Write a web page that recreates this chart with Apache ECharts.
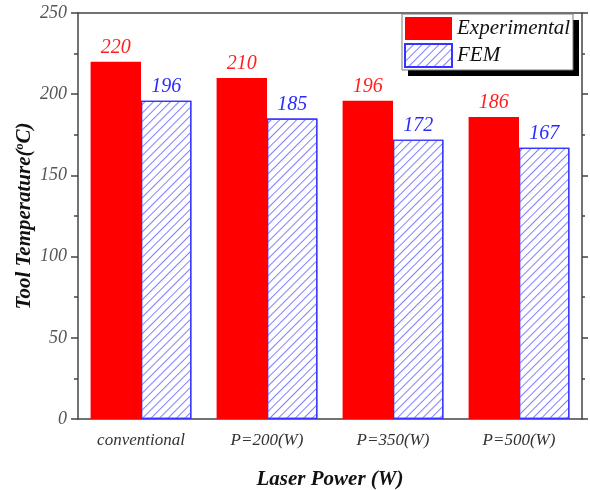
<!DOCTYPE html>
<html>
<head>
<meta charset="utf-8">
<script src="https://cdn.jsdelivr.net/npm/echarts@6/dist/echarts.min.js"></script>
<style>html,body{margin:0;padding:0;background:#fff}#c{width:590px;height:490px}</style>
</head>
<body>
<div id="c"></div>
<script>
const categories = ['conventional', 'P=200(W)', 'P=350(W)', 'P=500(W)'];
const experimental = [220, 210, 196, 186];
const fem = [196, 185, 172, 167];
const yTicks = [0, 50, 100, 150, 200, 250];

const serif = '"Liberation Serif", "DejaVu Serif", serif';
const axisColor = '#444';
const hatchDecal = {
  symbol: 'rect', symbolSize: 1, color: '#8080ff',
  dashArrayX: [1, 0], dashArrayY: [1, 4.5], rotation: -Math.PI / 4
};
const chart = echarts.init(document.getElementById('c'));
chart.setOption({
  animation: false,
  textStyle: { fontFamily: serif },
  grid: { left: 78, right: 8, top: 13, bottom: 71, containLabel: false, outerBoundsMode: 'none' },
  graphic: [
    { type: 'rect', z: 5, shape: { x: 408, y: 20, width: 171, height: 56 }, style: { fill: '#000' } },
    { type: 'rect', z: 5, shape: { x: 402, y: 14, width: 171, height: 56 }, style: { fill: '#fff', stroke: '#777', lineWidth: 1 } }
  ],
  legend: {
    orient: 'vertical', left: 404, top: 17, z: 10,
    itemWidth: 47, itemHeight: 23, itemGap: 3, padding: 0,
    icon: 'rect',
    textStyle: { fontFamily: serif, fontStyle: 'italic', fontSize: 21, color: '#111', padding: [0, 0, 0, 0] },
    data: ['Experimental', 'FEM']
  },
  xAxis: [
    {
      type: 'category', data: categories, position: 'bottom',
      axisLine: { lineStyle: { color: axisColor, width: 1.5 } },
      axisTick: { alignWithLabel: true, length: 7, lineStyle: { color: axisColor, width: 1.5 } },
      axisLabel: { fontFamily: serif, fontStyle: 'italic', fontSize: 17, color: '#333', margin: 13 },
      name: 'Laser Power (W)', nameLocation: 'middle', nameGap: 50, nameMoveOverlap: false,
      nameTextStyle: { fontFamily: serif, fontStyle: 'italic', fontWeight: 'bold', fontSize: 21, color: '#111' }
    },
    {
      type: 'category', data: categories, position: 'bottom', gridIndex: 0,
      axisLine: { show: false },
      axisTick: { alignWithLabel: false, length: 4, lineStyle: { color: axisColor, width: 1.5 } },
      axisLabel: { show: false }
    },
    {
      type: 'category', data: categories, position: 'top',
      axisLine: { lineStyle: { color: axisColor, width: 1.5 } },
      axisTick: { alignWithLabel: true, length: 6, lineStyle: { color: axisColor, width: 1.5 } },
      axisLabel: { show: false }
    },
    {
      type: 'category', data: categories, position: 'top',
      axisLine: { show: false },
      axisTick: { alignWithLabel: false, length: 3, lineStyle: { color: axisColor, width: 1.5 } },
      axisLabel: { show: false }
    }
  ],
  yAxis: [
    {
      type: 'value', min: 0, max: 250, interval: 50, position: 'left',
      axisLine: { show: true, lineStyle: { color: axisColor, width: 1.5 } },
      axisTick: { show: true, length: 7, lineStyle: { color: axisColor, width: 1.5 } },
      minorTick: { show: true, splitNumber: 2, length: 4, lineStyle: { color: axisColor, width: 1.5 } },
      splitLine: { show: false },
      axisLabel: { fontFamily: serif, fontStyle: 'italic', fontSize: 18, color: '#555', margin: 11,
        formatter: v => yTicks.includes(v) ? String(v) : '' },
      name: '{n|Tool Temperature(}{s|o}{n|C)}', nameLocation: 'middle', nameGap: 43, nameRotate: 90,
      nameMoveOverlap: false,
      nameTextStyle: { rich: {
        n: { fontFamily: serif, fontStyle: 'italic', fontWeight: 'bold', fontSize: 21, color: '#111' },
        s: { fontFamily: serif, fontStyle: 'italic', fontWeight: 'bold', fontSize: 12, color: '#111', verticalAlign: 'top', padding: [0, 0, 9, 0] }
      } }
    },
    {
      type: 'value', min: 0, max: 250, interval: 50, position: 'right',
      axisLine: { show: true, lineStyle: { color: axisColor, width: 1.5 } },
      axisTick: { show: true, length: 6, lineStyle: { color: axisColor, width: 1.5 } },
      minorTick: { show: true, splitNumber: 2, length: 3, lineStyle: { color: axisColor, width: 1.5 } },
      splitLine: { show: false },
      axisLabel: { show: false }
    }
  ],
  series: [
    {
      name: 'Experimental', type: 'bar', data: experimental,
      barGap: '0%', barCategoryGap: '20%',
      itemStyle: { color: '#ff0000', borderColor: '#ff0000', borderWidth: 0 },
      label: { show: true, position: 'top', distance: 4, color: '#ff2020', fontFamily: serif, fontStyle: 'italic', fontSize: 20 }
    },
    {
      name: 'FEM', type: 'bar', data: fem,
      itemStyle: { color: '#ffffff', borderColor: '#3535ff', borderWidth: 1.2, decal: hatchDecal },
      label: { show: true, position: 'top', distance: 4, color: '#2a2aff', fontFamily: serif, fontStyle: 'italic', fontSize: 20 }
    }
  ]
});
</script>
</body>
</html>
